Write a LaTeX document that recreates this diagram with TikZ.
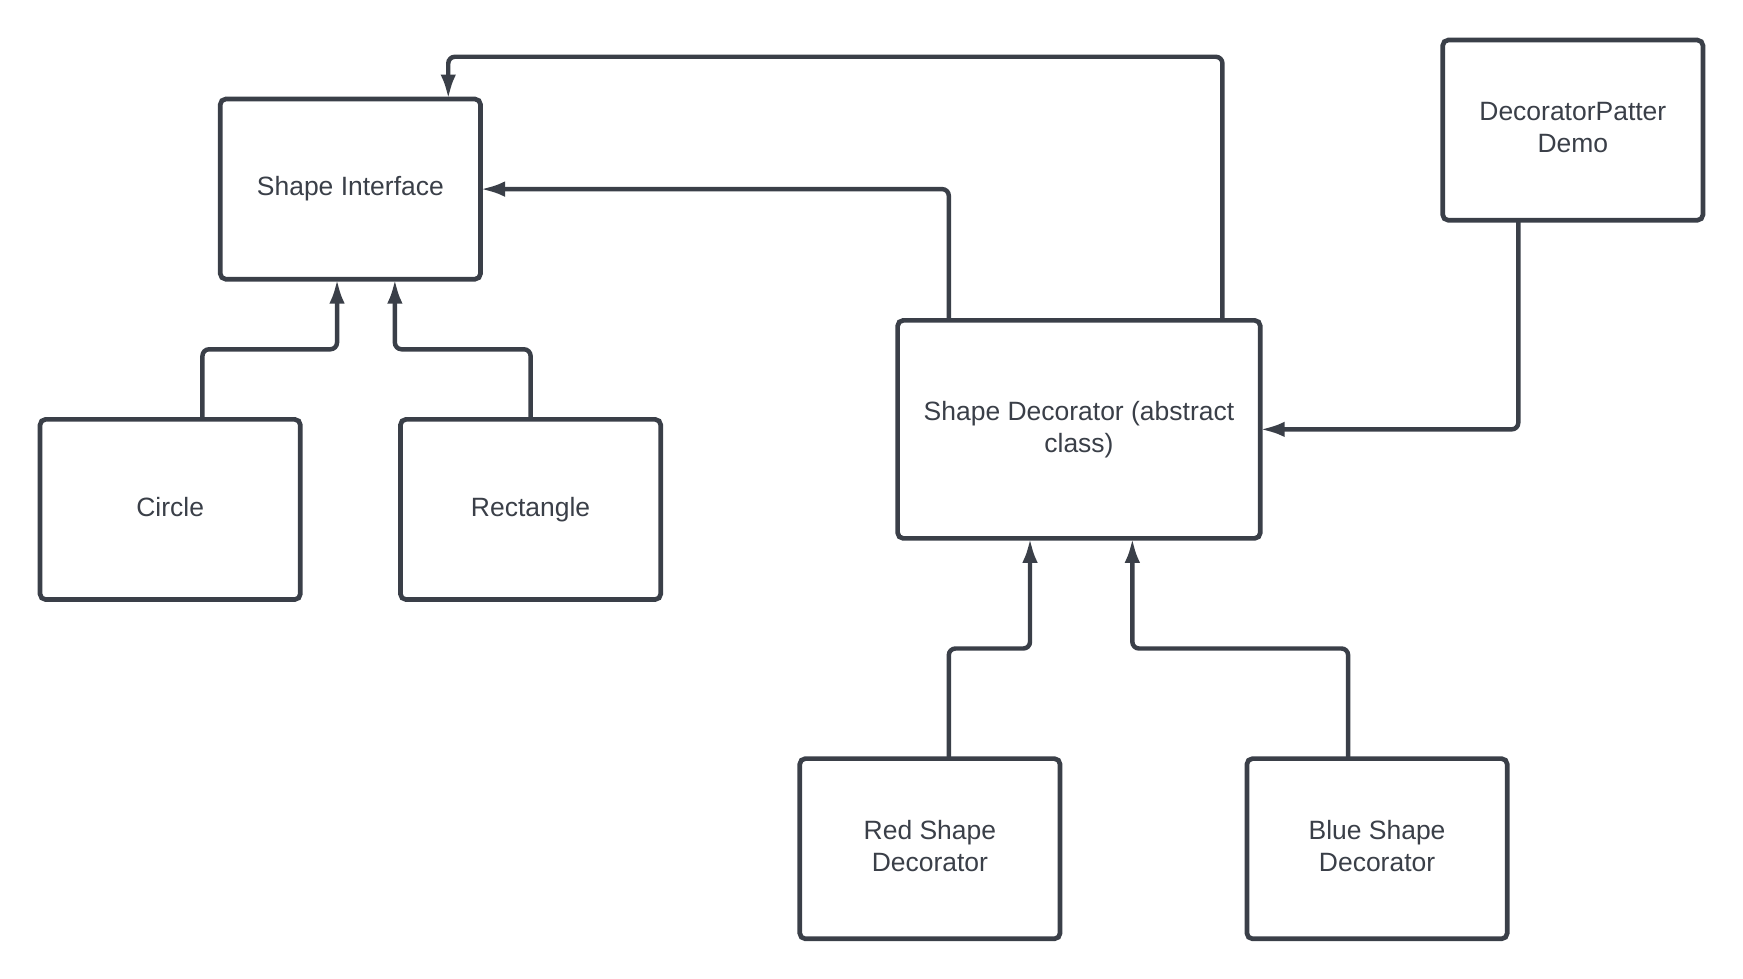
\documentclass[tikz,border=0pt]{standalone}
\usepackage{fontspec}
\setmainfont{Liberation Sans}
\usetikzlibrary{arrows.meta}
\definecolor{ink}{HTML}{3A3F48}
\newcommand{\liftlines}[1]{\raisebox{4.4pt}{\begin{tabular}{@{}c@{}}#1\end{tabular}}}
\tikzset{
  box/.style={draw=ink, line width=2.1pt, rounded corners=2.5pt, rectangle,
    minimum width=117pt, minimum height=81pt, inner sep=0pt, outer sep=0pt,
    align=center, text=ink, font=\fontsize{11.9}{14.5}\selectfont},
  oneline/.style={text height=8.6pt, text depth=2.6pt},
  conn/.style={draw=ink, line width=2pt, rounded corners=3pt,
    -{Latex[length=11pt,width=7pt]}}
}
\begin{document}
\begin{tikzpicture}[x=0.5pt,y=-0.5pt]
\useasboundingbox (0,0) rectangle (1567,880);
\node[box, oneline] (si) at (315,170) {Shape Interface};
\node[box, oneline] (circ) at (153,458) {Circle};
\node[box, oneline] (rect) at (477,458) {Rectangle};
\node[box, minimum width=163pt, minimum height=98pt] (sd) at (970,386) {Shape Decorator (abstract\\class)};
\node[box] (demo) at (1414,117) {\liftlines{DecoratorPatter\\Demo}};
\node[box] (red) at (836,763) {\liftlines{Red Shape\\Decorator}};
\node[box] (blue) at (1238,763) {\liftlines{Blue Shape\\Decorator}};

\draw[conn] ([xshift=14.5pt]circ.north) -- ++(0,31.5pt) -| ([xshift=-6pt]si.south);
\draw[conn] (rect.north) -- ++(0,31.5pt) -| ([xshift=20pt]si.south);
\draw[conn] ([xshift=-58.5pt]sd.north) |- (si.east);
\draw[conn] ([xshift=64.5pt]sd.north) -- ++(0,118.5pt) -| ([xshift=44pt]si.north);
\draw[conn] ([xshift=-24.5pt]demo.south) |- (sd.east);
\draw[conn] ([xshift=8.5pt]red.north) -- ++(0,49.5pt) -| ([xshift=-22pt]sd.south);
\draw[conn] ([xshift=-13pt]blue.north) -- ++(0,49.5pt) -| ([xshift=24pt]sd.south);
\end{tikzpicture}
\end{document}
